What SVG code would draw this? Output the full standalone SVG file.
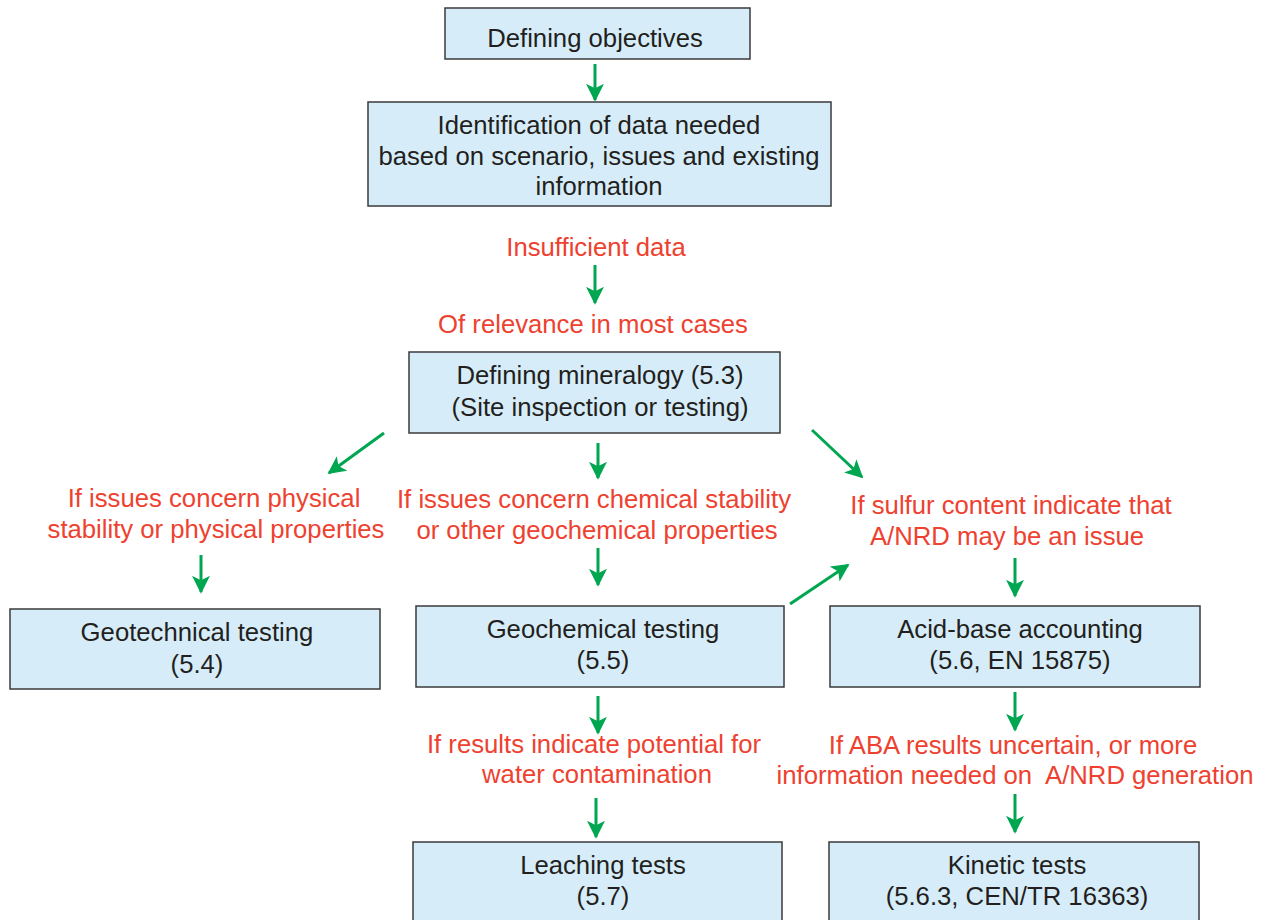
<svg xmlns="http://www.w3.org/2000/svg" width="1269" height="920" viewBox="0 0 1269 920">
<defs>
<style>
.box{fill:#d6edf9;stroke:#3a3a3a;stroke-width:1.5}
.t{font-family:"Liberation Sans",Arial,sans-serif;font-size:25.7px;fill:#231f20;text-anchor:middle}
.r{font-family:"Liberation Sans",Arial,sans-serif;font-size:25.7px;fill:#ee4130;text-anchor:middle}
.c{stroke:#00a650;stroke-width:3;fill:none;marker-end:url(#ah)}
</style>
<marker id="ah" viewBox="0 0 10 10" refX="9" refY="5" markerWidth="6" markerHeight="6" orient="auto" markerUnits="strokeWidth">
<path d="M0,0 L10,5 L0,10 L2.5,5 Z" fill="#00a650"/>
</marker>
</defs>
<rect width="1269" height="920" fill="#fff"/>
<g id="n1"><rect class="box" x="445" y="8" width="305" height="51"/><text class="t" x="595" y="47">Defining objectives</text></g>
<g id="n2"><rect class="box" x="368" y="102" width="463" height="104"/><text class="t" x="599" y="134">Identification of data needed</text><text class="t" x="599" y="165">based on scenario, issues and existing</text><text class="t" x="599" y="195">information</text></g>
<g id="n3"><rect class="box" x="409" y="352" width="371" height="81"/><text class="t" x="600" y="384">Defining mineralogy (5.3)</text><text class="t" x="600" y="416">(Site inspection or testing)</text></g>
<g id="n4"><rect class="box" x="10" y="609" width="370" height="80"/><text class="t" x="197" y="641">Geotechnical testing</text><text class="t" x="197" y="673">(5.4)</text></g>
<g id="n5"><rect class="box" x="416" y="606" width="368" height="81"/><text class="t" x="603" y="638">Geochemical testing</text><text class="t" x="603" y="669">(5.5)</text></g>
<g id="n6"><rect class="box" x="830" y="606" width="370" height="81"/><text class="t" x="1020" y="638">Acid-base accounting</text><text class="t" x="1020" y="669">(5.6, EN 15875)</text></g>
<g id="n7"><rect class="box" x="413" y="842" width="369" height="90"/><text class="t" x="603" y="874">Leaching tests</text><text class="t" x="603" y="905">(5.7)</text></g>
<g id="n8"><rect class="box" x="829" y="842" width="370" height="90"/><text class="t" x="1017" y="874">Kinetic tests</text><text class="t" x="1017" y="905">(5.6.3, CEN/TR 16363)</text></g>
<g id="labels">
<text class="r" x="596" y="256">Insufficient data</text>
<text class="r" x="593" y="333">Of relevance in most cases</text>
<text class="r" x="214" y="507">If issues concern physical</text>
<text class="r" x="216" y="538">stability or physical properties</text>
<text class="r" x="594" y="508">If issues concern chemical stability</text>
<text class="r" x="597" y="539">or other geochemical properties</text>
<text class="r" x="1011" y="514">If sulfur content indicate that</text>
<text class="r" x="1007" y="545">A/NRD may be an issue</text>
<text class="r" x="594" y="753">If results indicate potential for</text>
<text class="r" x="597" y="783">water contamination</text>
<text class="r" x="1013" y="754">If ABA results uncertain, or more</text>
<text class="r" x="1015" y="784" xml:space="preserve">information needed on  A/NRD generation</text>
</g>
<g id="connectors">
<line class="c" x1="595" y1="64" x2="595" y2="100"/>
<line class="c" x1="595" y1="265" x2="595" y2="303"/>
<line class="c" x1="384" y1="433" x2="329" y2="473"/>
<line class="c" x1="598" y1="443" x2="598" y2="478"/>
<line class="c" x1="812" y1="430" x2="862" y2="477"/>
<line class="c" x1="201" y1="555" x2="201" y2="592"/>
<line class="c" x1="598" y1="548" x2="598" y2="585"/>
<line class="c" x1="1015" y1="558" x2="1015" y2="596"/>
<line class="c" x1="790" y1="604" x2="848" y2="565"/>
<line class="c" x1="598" y1="696" x2="598" y2="733"/>
<line class="c" x1="596" y1="798" x2="596" y2="837"/>
<line class="c" x1="1015" y1="692" x2="1015" y2="730"/>
<line class="c" x1="1015" y1="794" x2="1015" y2="832"/>
</g>
</svg>
